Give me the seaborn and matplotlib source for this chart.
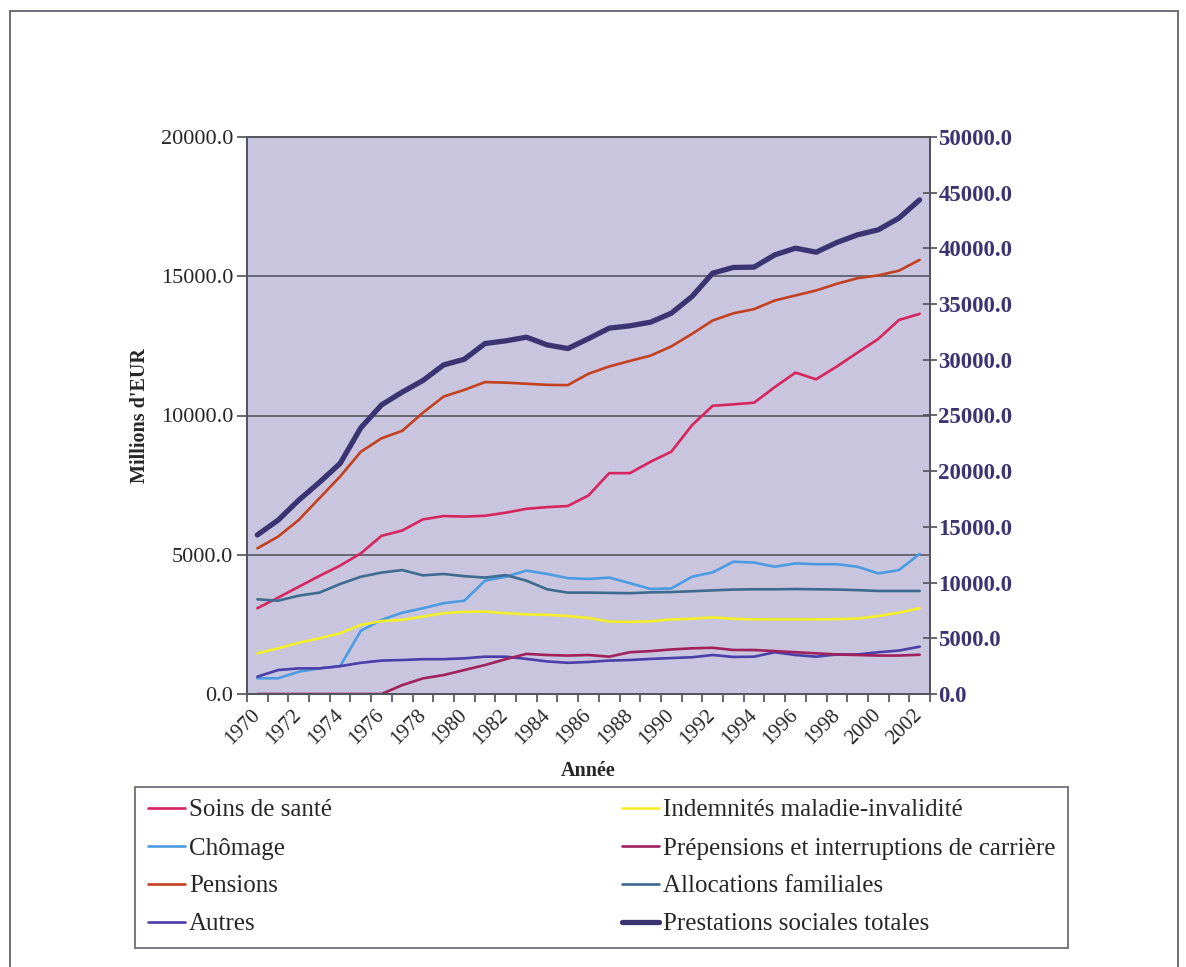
import matplotlib
matplotlib.use("Agg")
import numpy as np
import pandas as pd
import matplotlib.pyplot as plt
import seaborn as sns
from matplotlib.patches import Rectangle
from matplotlib.ticker import FormatStrFormatter

# Social benefit expenditure, millions of EUR
years = list(range(1970, 2003))

soins_de_sante = [3080, 3460, 3850, 4240, 4610, 5050, 5680, 5870, 6270, 6390, 6370,
                  6400, 6510, 6650, 6710, 6750, 7130, 7930, 7930, 8340, 8700, 9650,
                  10350, 10400, 10460, 11020, 11540, 11300, 11760, 12260, 12750, 13430, 13650]
chomage = [563, 563, 800, 920, 1000, 2270, 2660, 2920, 3080, 3260, 3350,
           4070, 4210, 4430, 4310, 4160, 4130, 4180, 3980, 3770, 3790, 4210,
           4370, 4750, 4720, 4570, 4690, 4660, 4660, 4570, 4330, 4450, 5030]
pensions = [5230, 5650, 6250, 7030, 7810, 8700, 9180, 9450, 10100, 10680, 10920,
            11200, 11180, 11140, 11100, 11090, 11500, 11760, 11960, 12150, 12480, 12930,
            13410, 13670, 13820, 14130, 14310, 14490, 14730, 14930, 15030, 15200, 15590]
autres = [620, 860, 920, 920, 1000, 1120, 1200, 1220, 1250, 1250, 1280,
          1340, 1340, 1260, 1170, 1120, 1150, 1200, 1220, 1260, 1290, 1320,
          1400, 1330, 1340, 1500, 1400, 1340, 1420, 1420, 1500, 1560, 1700]
indemnites = [1460, 1640, 1840, 2000, 2180, 2480, 2620, 2660, 2780, 2900, 2950,
              2960, 2900, 2860, 2840, 2800, 2730, 2600, 2590, 2610, 2680, 2700,
              2750, 2700, 2680, 2680, 2680, 2680, 2690, 2710, 2800, 2920, 3080]
prepensions = [0, 0, 0, 0, 0, 0, 0, 320, 560, 680, 860,
               1040, 1250, 1440, 1400, 1380, 1400, 1340, 1500, 1540, 1600, 1640,
               1660, 1580, 1580, 1540, 1500, 1460, 1420, 1400, 1380, 1380, 1410]
allocations = [3400, 3350, 3530, 3640, 3950, 4210, 4360, 4450, 4260, 4310, 4230,
               4180, 4270, 4070, 3760, 3640, 3640, 3630, 3620, 3650, 3660, 3690,
               3720, 3750, 3760, 3760, 3770, 3760, 3750, 3730, 3700, 3700, 3700]
# Plotted against the secondary (right) axis
total = [14280, 15600, 17400, 19000, 20700, 23900, 25950, 27100, 28140, 29540, 30050,
         31460, 31700, 32030, 31340, 31010, 31900, 32840, 33050, 33380, 34180, 35680,
         37780, 38290, 38320, 39420, 40020, 39660, 40530, 41220, 41670, 42720, 44360]

series_left = [
    ("Soins de santé", soins_de_sante, "#d6245e"),
    ("Chômage", chomage, "#4b9be3"),
    ("Pensions", pensions, "#c2401f"),
    ("Autres", autres, "#4a3ea8"),
    ("Indemnités maladie-invalidité", indemnites, "#f2ee2a"),
    ("Prépensions et interruptions de carrière", prepensions, "#a0205e"),
    ("Allocations familiales", allocations, "#3d6a8e"),
]
total_label = "Prestations sociales totales"
total_color = "#3b3472"

sns.set_theme(style="white")
plt.rcParams["font.family"] = ["Liberation Serif", "DejaVu Serif"]

W, H = 1186, 967
fig = plt.figure(figsize=(W / 100, H / 100), dpi=100)
fig.patch.set_facecolor("white")

# outer chart frame
fig.add_artist(Rectangle((10 / W, -0.05), (1178 - 10) / W, 1.05 - 11 / H,
                         transform=fig.transFigure, fill=False,
                         edgecolor="#6e6e78", linewidth=1.4))

left, right, top, bottom = 247, 930, 137, 694
ax = fig.add_axes([left / W, 1 - bottom / H, (right - left) / W, (bottom - top) / H])
ax.set_facecolor("#c9c5de")

idx = np.arange(len(years))
df = pd.DataFrame({"idx": idx})
handles = {}
for name, vals, col in series_left:
    df[name] = vals
    sns.lineplot(data=df, x="idx", y=name, ax=ax, color=col, linewidth=1.9,
                 label=name, legend=False)
    handles[name] = ax.get_lines()[-1]

ax.set_xlim(-0.5, len(years) - 0.5)
ax.set_ylim(0, 20000)
ax.set_yticks(np.arange(0, 20001, 5000))
ax.yaxis.set_major_formatter(FormatStrFormatter("%.1f"))
ax.grid(False)
for yv in (5000, 10000, 15000):
    ax.axhline(yv, color="#4e4e58", linewidth=1.1, zorder=0.5)

ax.set_xticks(idx[::2])
ax.set_xticklabels([str(y) for y in years[::2]], rotation=45, ha="right",
                   va="center", rotation_mode="anchor", fontsize=15)
ax.set_xticks(np.arange(-0.5, len(years), 1.0), minor=True)
ax.tick_params(axis="x", which="major", length=0, pad=13)
ax.tick_params(axis="x", which="minor", length=6, width=1.2, color="#4e4e58",
               direction="out", bottom=True)
ax.tick_params(axis="y", which="major", length=7, width=1.2, color="#4e4e58",
               direction="out", left=True, labelsize=16, pad=3)
for s in ax.spines.values():
    s.set_color("#55555f")
    s.set_linewidth(1.4)

ax.set_xlabel("Année", fontsize=14.5, fontweight="bold", labelpad=9)
ax.set_ylabel("Millions d'EUR", fontsize=14.5, fontweight="bold", labelpad=8)

ax2 = ax.twinx()
df[total_label] = total
sns.lineplot(data=df, x="idx", y=total_label, ax=ax2, color=total_color,
             linewidth=3.8, label=total_label, legend=False)
handles[total_label] = ax2.get_lines()[-1]
ax2.set_ylim(0, 50000)
ax2.set_yticks(np.arange(0, 50001, 5000))
ax2.yaxis.set_major_formatter(FormatStrFormatter("%.1f"))
ax2.set_ylabel("")
ax2.grid(False)
ax2.tick_params(axis="y", which="major", length=10, width=1.2, color="#4e4e58",
                direction="inout", right=True, labelsize=16.5, labelcolor="#3b3472",
                pad=1)
for lab in ax2.get_yticklabels():
    lab.set_fontweight("bold")
for s in ax2.spines.values():
    s.set_color("#55555f")
    s.set_linewidth(1.4)

order = ["Soins de santé", "Chômage", "Pensions", "Autres",
         "Indemnités maladie-invalidité", "Prépensions et interruptions de carrière",
         "Allocations familiales", total_label]
lx0, lx1, ly0, ly1 = 135, 1068, 790, 948
leg = fig.legend([handles[n] for n in order], order, ncol=2, mode="expand",
                 loc="lower left",
                 bbox_to_anchor=(lx0 / W, 1 - ly1 / H, (lx1 - lx0) / W, (ly1 - ly0) / H),
                 fontsize=18, frameon=True, fancybox=False, framealpha=1,
                 edgecolor="#6e6e78", handlelength=1.5, handletextpad=0.15,
                 labelspacing=0.62, borderpad=0.5, borderaxespad=0)
leg.get_frame().set_linewidth(1.3)

fig.savefig("out.png", dpi=100, facecolor="white")
